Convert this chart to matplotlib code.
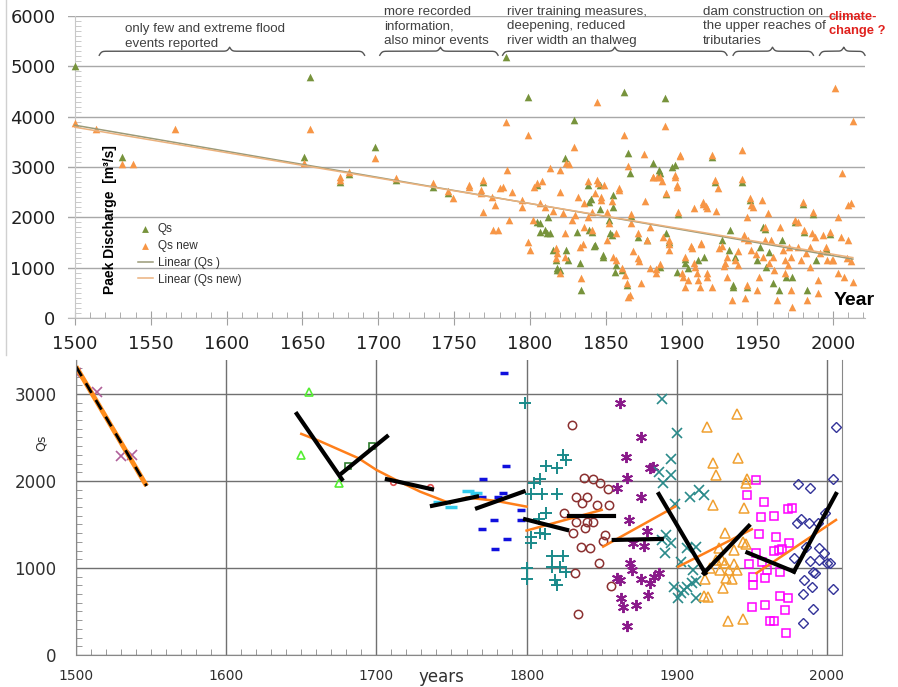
import numpy as np
import matplotlib
matplotlib.use("Agg")
import matplotlib.pyplot as plt
from matplotlib.lines import Line2D
from matplotlib.ticker import MultipleLocator

# ── Datos panel superior (caudal pico) ────────────────────────────────────────

yr_qs = [1500, 1531, 1651, 1655, 1675, 1681, 1698, 1712, 1736, 1746, 1769, 1784, 1799,
         1805, 1805, 1807, 1807, 1810, 1811, 1812, 1813, 1815, 1817, 1818, 1818, 1820,
         1823, 1824, 1825, 1829, 1831, 1833, 1834, 1838, 1839, 1839, 1840, 1841, 1842,
         1843, 1846, 1846, 1848, 1848, 1852, 1853, 1854, 1855, 1855, 1856, 1857, 1861,
         1862, 1864, 1865, 1866, 1867, 1871, 1877, 1881, 1885, 1886, 1889, 1890, 1890,
         1892, 1886, 1894, 1896, 1897, 1898, 1902, 1902, 1904, 1911, 1915, 1920, 1922,
         1927, 1931, 1932, 1934, 1934, 1935, 1940, 1943, 1945, 1950, 1952, 1954, 1955,
         1956, 1958, 1960, 1964, 1966, 1969, 1973, 1975, 1980, 1981, 1983, 1987, 1989,
         1995, 1996, 1998]
qs = [5000, 3200, 3200, 4790, 2700, 2860, 3400, 2740, 2600, 2480, 2700, 5190, 4400,
      2640, 1910, 1880, 1710, 1750, 1690, 2010, 1690, 1350, 1150, 950, 1000, 950,
      3180, 1350, 1150, 3930, 1710, 1090, 560, 2640, 1750, 2300, 2360, 1710, 1430,
      1450, 2160, 2640, 1250, 1210, 1950, 1690, 1650, 2450, 2210, 915, 1050, 960,
      4500, 655, 3280, 2880, 2020, 1610, 1550, 3080, 2950, 2880, 4370, 2460, 1690,
      1510, 1010, 3000, 3040, 915, 2060, 1090, 1170, 995, 1150, 1210, 3200, 2700,
      1550, 1350, 1750, 615, 660, 1210, 2700, 615, 2340, 1150, 1410, 1810, 1770,
      1010, 1310, 690, 560, 1550, 815, 815, 1910, 2270, 1710, 560, 2060, 1150,
      1370, 1340, 1670]

yr_new = [1500, 1514, 1531, 1538, 1566, 1651, 1655, 1675, 1675, 1681, 1698, 1712, 1736,
          1746, 1749, 1760, 1760, 1768, 1768, 1769, 1769, 1775, 1776, 1779, 1777, 1780,
          1782, 1784, 1785, 1786, 1788, 1795, 1795, 1799, 1799, 1800, 1802, 1803, 1805,
          1807, 1808, 1810, 1813, 1815, 1817, 1817, 1818, 1820, 1820, 1820, 1822, 1823,
          1823, 1824, 1826, 1828, 1829, 1830, 1832, 1833, 1834, 1835, 1836, 1836, 1838,
          1838, 1841, 1841, 1843, 1844, 1844, 1845, 1847, 1847, 1849, 1851, 1851, 1852,
          1854, 1855, 1857, 1857, 1859, 1859, 1861, 1862, 1863, 1864, 1865, 1865, 1866,
          1867, 1867, 1868, 1871, 1871, 1872, 1873, 1875, 1876, 1877, 1879, 1879, 1881,
          1881, 1883, 1883, 1884, 1886, 1886, 1887, 1888, 1889, 1890, 1892, 1892, 1892,
          1896, 1896, 1897, 1897, 1898, 1899, 1899, 1900, 1901, 1902, 1902, 1904, 1906,
          1907, 1908, 1908, 1909, 1910, 1911, 1912, 1913, 1913, 1914, 1914, 1916, 1917,
          1917, 1917, 1920, 1920, 1922, 1923, 1924, 1925, 1927, 1928, 1929, 1930, 1930,
          1933, 1935, 1937, 1937, 1940, 1940, 1941, 1941, 1942, 1943, 1943, 1944, 1945,
          1946, 1946, 1947, 1949, 1950, 1951, 1953, 1954, 1955, 1955, 1957, 1958, 1959,
          1960, 1961, 1963, 1965, 1967, 1968, 1968, 1970, 1971, 1972, 1972, 1973, 1975,
          1977, 1977, 1979, 1980, 1981, 1982, 1983, 1985, 1985, 1986, 1987, 1988, 1990,
          1990, 1991, 1993, 1995, 1996, 1998, 1999, 2000, 2001, 2003, 2003, 2005, 2006,
          2007, 2009, 2010, 2010, 2012, 2012, 2013, 2013]
qs_new = [3875, 3755, 3060, 3060, 3750, 3070, 3750, 2740, 2800, 2900, 3170, 2780, 2680,
          2520, 2380, 2600, 2640, 2480, 2540, 2740, 2110, 2400, 1750, 1750, 2245, 2580,
          2600, 3900, 2940, 1950, 2500, 2340, 2210, 3640, 1510, 1350, 1950, 2600, 2680,
          2280, 2720, 2200, 2980, 2130, 1390, 1190, 1290, 2500, 2940, 890, 2085, 1690,
          1210, 3080, 3050, 1950, 3400, 2050, 2400, 1410, 790, 1470, 2280, 1810, 2720,
          2010, 2100, 1750, 2480, 4300, 2740, 2680, 2400, 2340, 2640, 2100, 1550, 1890,
          2330, 1210, 1690, 1150, 2580, 2540, 1000, 3640, 850, 690, 3010, 420, 460,
          2060, 1890, 1330, 1690, 1190, 1130, 690, 3260, 2330, 1540, 1810, 990, 2810,
          2800, 970, 890, 2800, 2810, 1080, 2720, 1610, 3810, 2490, 1550, 1350, 1470,
          2840, 2800, 2610, 2640, 2100, 3210, 3240, 890, 815, 1210, 615, 760, 1430,
          1390, 2190, 1090, 1010, 895, 760, 615, 1470, 1490, 2270, 2300, 2230, 2190,
          890, 815, 3240, 615, 2740, 2130, 2580, 1390, 1430, 1040, 1090, 1210, 815,
          360, 1150, 1330, 1050, 3340, 2760, 1590, 1650, 390, 660, 2010, 1550, 2380,
          2250, 1350, 2200, 1270, 560, 815, 2340, 1210, 1810, 1540, 2090, 1100, 1550,
          1210, 950, 360, 1810, 1350, 1150, 890, 1050, 1410, 1210, 560, 220, 1950,
          1910, 1410, 1150, 2300, 1750, 1290, 360, 1410, 1010, 1690, 2100, 1610, 755,
          490, 1290, 1650, 1410, 1150, 1710, 1150, 1150, 4570, 2010, 895, 1610, 2880,
          815, 1190, 1550, 2250, 2280, 1130, 3920, 715]

trend_yr = [1500, 2013]
trend_qs = [3830, 1170]
trend_new = [3790, 1200]

# textos de los periodos: (año izquierdo, texto, altura), llaves: (inicio, punta, fin)
periodos = [(1533, "only few and extreme flood\nevents reported", 5860),
            (1704, "more recorded\ninformation,\nalso minor events", 6200),
            (1785, "river training measures,\ndeepening, reduced\nriver width an thalweg", 6200),
            (1914, "dam construction on\nthe upper reaches of\ntributaries", 6200)]
llaves = [(1516, 1602, 1691), (1701, 1741, 1779), (1782, 1856, 1930),
          (1934, 1960, 1987), (1991, 2007, 2021)]

# ── Datos panel inferior (tramos por periodo) ─────────────────────────────────

x_1500 = [1500, 1514, 1530, 1537]
q_1500 = [3243, 3028, 2288, 2300]
tri_g_yr = [1650, 1655, 1675]
tri_g = [2300, 3028, 1974]
sq_g_yr = [1681, 1697]
sq_g = [2173, 2403]
red_yr = [1711, 1736]
red = [1984, 1936]
cyan_yr = [1742, 1750, 1761, 1766]
cyan = [1760, 1700, 1880, 1860]
blue_yr = [1785, 1786, 1771, 1770, 1778, 1770, 1787, 1779, 1781, 1784, 1796, 1796]
blue = [3239, 2173, 2020, 1820, 1552, 1452, 1330, 1215, 1820, 1860, 1667, 1552]
plus_yr = [1799, 1800, 1800, 1813, 1820, 1824, 1826, 1809, 1805, 1803, 1810, 1820, 1813,
           1803, 1803, 1809, 1812, 1817, 1824, 1817, 1822, 1826, 1819, 1820, 1808]
plus_q = [2894, 997, 870, 2173, 2147, 2300, 2243, 2020, 1975, 1850, 1850, 1850, 1637,
          1360, 1285, 1400, 1392, 1138, 1138, 1015, 1015, 958, 862, 805, 1560]
circ_yr = [1830, 1838, 1844, 1849, 1854, 1833, 1840, 1837, 1847, 1855, 1825, 1833, 1840,
           1844, 1839, 1831, 1852, 1851, 1836, 1842, 1848, 1832, 1856, 1834]
circ_q = [2645, 2032, 2020, 1981, 1905, 1820, 1820, 1744, 1725, 1725, 1630, 1533, 1533,
          1533, 1457, 1407, 1380, 1311, 1238, 1227, 1062, 940, 793, 468]
ast_yr = [1862, 1876, 1866, 1882, 1884, 1867, 1860, 1876, 1868, 1871, 1878, 1880, 1869,
          1870, 1860, 1862, 1876, 1882, 1881, 1863, 1864, 1873, 1867, 1888, 1885]
ast_q = [2894, 2503, 2272, 2154, 2166, 2039, 1915, 1813, 1552, 1292, 1254, 1430, 1062,
         977, 889, 860, 870, 831, 690, 652, 556, 575, 337, 940, 900]
tx_yr = [1890, 1900, 1896, 1888, 1896, 1891, 1899, 1909, 1915, 1918, 1890, 1896, 1892,
         1907, 1913, 1903, 1911, 1898, 1903, 1907, 1910, 1913, 1901, 1913, 1905, 1893]
tx_q = [2940, 2550, 2250, 2108, 2070, 1974, 1736, 1820, 1898, 1840, 1322, 1284, 1169,
        1227, 1246, 1073, 977, 785, 709, 785, 824, 850, 652, 652, 750, 1380]
otri_yr = [1920, 1940, 1924, 1926, 1941, 1946, 1947, 1924, 1945, 1932, 1928, 1938, 1944,
           1946, 1926, 1930, 1932, 1922, 1929, 1935, 1938, 1940, 1919, 1933, 1937, 1931,
           1918, 1921, 1934, 1944]
otri_q = [2618, 2771, 2204, 2070, 2262, 1981, 2020, 1725, 1687, 1400, 1227, 1207, 1303,
          1270, 1092, 1092, 1060, 997, 977, 977, 1047, 977, 870, 881, 870, 767, 679, 663,
          391, 410]
msq_yr = [1953, 1947, 1958, 1956, 1965, 1974, 1977, 1955, 1966, 1975, 1953, 1965, 1968,
          1970, 1948, 1957, 1960, 1969, 1951, 1959, 1951, 1969, 1974, 1950, 1959, 1972,
          1962, 1965, 1973]
msq_q = [2012, 1840, 1756, 1590, 1602, 1679, 1687, 1391, 1360, 1285, 1169, 1200, 1207,
         1220, 1047, 1073, 977, 958, 901, 881, 805, 682, 652, 556, 575, 517, 391, 391, 257]
dia_yr = [1981, 1989, 2004, 2006, 1980, 1983, 1988, 1994, 1999, 1986, 1995, 1998, 1978,
          1989, 1995, 2000, 2002, 1991, 1992, 1985, 1990, 2004, 1984, 1991, 1984]
dia_q = [1963, 1924, 2020, 2618, 1514, 1560, 1522, 1522, 1630, 1246, 1227, 1169, 1119,
         1085, 1092, 1054, 1054, 958, 940, 862, 778, 755, 701, 526, 365]

# tendencias: tramos negros y curvas naranjas
tramo_1500_x = [1500, 1547]
tramo_1500_y = [3315, 1943]
negro_x = [[1647, 1677], [1677, 1707], [1707, 1737], [1737, 1767], [1767, 1798],
           [1799, 1827], [1828, 1858], [1858, 1890], [1888, 1919], [1918, 1948],
           [1947, 1978], [1978, 2006]]
negro_y = [[2771, 2020], [2090, 2511], [2020, 1905], [1714, 1821], [1687, 1878],
           [1560, 1437], [1600, 1600], [1322, 1334], [1850, 940], [940, 1484],
           [1177, 958], [958, 1851]]
naranja_x = [[1650, 1662, 1688, 1700, 1713, 1729, 1749], [1749, 1760, 1780, 1800],
             [1800, 1850], [1851, 1899], [1901, 1950], [1953, 2006]]
naranja_y = [[2541, 2460, 2262, 2127, 2012, 1878, 1744], [1750, 1810, 1770, 1705],
             [1430, 1667], [1246, 1706], [1015, 1445], [940, 1552]]

# ── Figura ────────────────────────────────────────────────────────────────────

W, H = 898, 687
fig = plt.figure(figsize=(W / 100, H / 100), dpi=100)
fig.add_artist(Line2D([6 / W, 6 / W], [1 - 355 / H, 1], color="#d0d0d0", lw=1))

TXT = "#404040"

# ── Panel superior ────────────────────────────────────────────────────────────

ax1 = fig.add_axes([68 / W, 1 - 318 / H, 797 / W, 302 / H])
ax1.set_xlim(1495.4, 2021)
ax1.set_ylim(0, 6000)
for s in ["top", "right"]:
    ax1.spines[s].set_visible(False)
ax1.spines["left"].set_position(("data", 1500))
ax1.spines["left"].set_color("#c8c8c8")
ax1.spines["bottom"].set_color("#b8b8b8")
ax1.set_yticks(range(0, 6001, 1000))
ax1.yaxis.set_minor_locator(MultipleLocator(100))
ax1.set_xticks(range(1500, 2001, 50))
ax1.xaxis.set_minor_locator(MultipleLocator(10))
ax1.yaxis.grid(True, color="#a8a8a8", lw=1)
ax1.set_axisbelow(True)
ax1.tick_params(axis="x", which="major", direction="inout", length=10, color="#a0a0a0",
                pad=7, labelsize=13, labelcolor="#202020")
ax1.tick_params(axis="x", which="minor", direction="in", length=4, color="#a0a0a0")
ax1.tick_params(axis="y", which="major", length=0, pad=14, labelsize=13, labelcolor="#202020")
ax1.tick_params(axis="y", which="minor", direction="in", length=4, color="#c0c0c0")

ax1.scatter(yr_qs, qs, marker="^", s=30, color="#77933c", lw=0, zorder=3, label="Qs")
ax1.scatter(yr_new, qs_new, marker="^", s=30, color="#f79646", lw=0, zorder=4, label="Qs new")
ax1.plot(trend_yr, trend_qs, color="#9a9a78", lw=1.1, zorder=5, label="Linear (Qs )")
ax1.plot(trend_yr, trend_new, color="#ebb27e", lw=1.1, zorder=5, label="Linear (Qs new)")

leg = ax1.legend(loc="upper left", bbox_to_anchor=(0.08, 0.335), frameon=False,
                 prop={"family": "Liberation Sans", "size": 8.5}, handlelength=1.3,
                 handletextpad=0.4, labelspacing=0.42, borderpad=0, markerscale=0.9)
for t in leg.get_texts():
    t.set_color("#303030")

ax1.text(1523, 1950, "Paek Discharge  [m³/s]", rotation=90, ha="center", va="center",
         fontsize=10, fontweight="bold", family="Liberation Sans")
ax1.text(2000, 350, "Year", ha="left", va="center", fontsize=14, fontweight="bold",
         family="Liberation Sans")


def llave(ax, x0, tip, x1, y0, h, b=1.3):
    xl = np.linspace(x0, tip, 120)
    yl = 1 / (1 + np.exp(-b * (xl - x0))) + 1 / (1 + np.exp(-b * (xl - tip)))
    xr = np.linspace(tip, x1, 120)
    yr = 1 / (1 + np.exp(-b * (x1 - xr))) + 1 / (1 + np.exp(-b * (tip - xr)))
    xs = np.concatenate([xl, xr])
    ys = y0 + h * (np.concatenate([yl, yr]) - 1)
    ax.plot(xs, ys, color="#555555", lw=1, clip_on=False, zorder=2)


for x0, tip, x1 in llaves:
    llave(ax1, x0, tip, x1, 5300, 160)

for x, txt, y in periodos:
    ax1.text(x, y, txt, ha="left", va="top", fontsize=9.6, color=TXT,
             family="Liberation Sans", linespacing=1.28, clip_on=False)
ax1.text(1997, 6100, "climate-\nchange ?", ha="left", va="top", fontsize=9.3,
         fontweight="bold", color="#e0201c", family="Liberation Sans", linespacing=1.25)

# ── Panel inferior ────────────────────────────────────────────────────────────

ax2 = fig.add_axes([76 / W, 1 - 655 / H, 766 / W, 295 / H])
ax2.set_xlim(1500, 2010)
ax2.set_ylim(0, 3390)
ax2.spines["top"].set_visible(False)
for s in ["left", "right", "bottom"]:
    ax2.spines[s].set_color("#888888")
ax2.set_xticks(range(1500, 2001, 100))
ax2.xaxis.set_minor_locator(MultipleLocator(10))
ax2.set_yticks(range(0, 3001, 1000))
ax2.yaxis.set_minor_locator(MultipleLocator(100))
ax2.grid(True, which="major", color="#707070", lw=1)
ax2.set_axisbelow(True)
ax2.tick_params(axis="x", which="major", length=0, pad=10, labelsize=10, labelcolor="#303030")
ax2.tick_params(axis="y", which="major", length=0, pad=14, labelsize=12, labelcolor="#303030")
ax2.tick_params(which="minor", direction="in", length=4, color="#888888")

hueco = dict(linestyle="none", mfc="none")
ax2.plot(x_1500, q_1500, marker="x", ms=7, mew=1.2, color="#b0609a", linestyle="none")
ax2.plot(tri_g_yr, tri_g, marker="^", ms=6, mew=1.2, color="#55ee33", **hueco)
ax2.plot(sq_g_yr, sq_g, marker="s", ms=4, mew=1.2, color="#2e7d2e", **hueco)
ax2.plot(red_yr, red, marker="o", ms=4, mew=1.2, color="#e05050", **hueco)
ax2.plot(cyan_yr, cyan, marker="_", ms=8, mew=2.5, color="#33ccee", linestyle="none")
ax2.plot(blue_yr, blue, marker="_", ms=6, mew=2.5, color="#1010dd", linestyle="none")
ax2.plot(plus_yr, plus_q, marker="+", ms=8, mew=1.4, color="#1a8a8a", linestyle="none")
ax2.plot(circ_yr, circ_q, marker="o", ms=6, mew=1.1, color="#8b3030", **hueco)
ax2.plot(ast_yr, ast_q, marker=(6, 2, 0), ms=8, mew=1.4, color="#8a1a8a", linestyle="none")
ax2.plot(tx_yr, tx_q, marker="x", ms=7, mew=1.2, color="#2a8a8a", linestyle="none")
ax2.plot(otri_yr, otri_q, marker="^", ms=7, mew=1.1, color="#f0a030", **hueco)
ax2.plot(msq_yr, msq_q, marker="s", ms=6, mew=1.1, color="#ff00ff", **hueco)
ax2.plot(dia_yr, dia_q, marker="D", ms=5, mew=1.0, color="#333399", **hueco)

ax2.plot(tramo_1500_x, tramo_1500_y, color="#ff8c1a", lw=3.5, solid_capstyle="butt")
ax2.plot(tramo_1500_x, tramo_1500_y, color="black", lw=2, dashes=(4, 3))
for xs, ys in zip(naranja_x, naranja_y):
    ax2.plot(xs, ys, color="#ff7f1a", lw=1.8, zorder=4)
for xs, ys in zip(negro_x, negro_y):
    ax2.plot(xs, ys, color="black", lw=3, zorder=5)

fig.text(41 / W, 1 - 443 / H, "Qs", rotation=90, ha="center", va="center", fontsize=9,
         color="#303030")
fig.text(441 / W, 1 - 677 / H, "years", ha="center", va="center", fontsize=12,
         color="#303030")

fig.savefig("out.png", dpi=100)
